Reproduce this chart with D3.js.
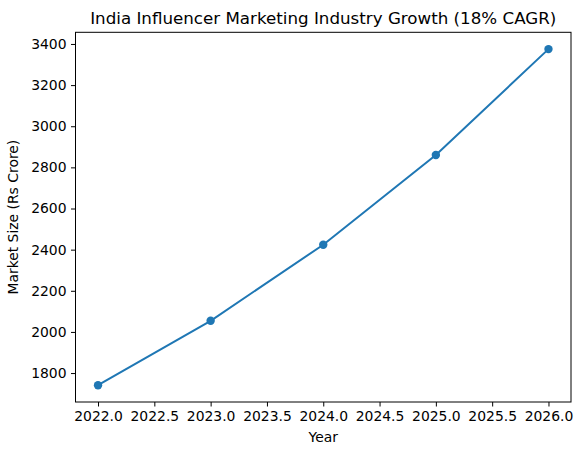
<!DOCTYPE html>
<html>
<head>
<meta charset="utf-8">
<script src="https://cdn.jsdelivr.net/npm/d3@7"></script>
<style>
  body { margin: 0; background: #fff; }
  .axis text { font-family: "DejaVu Sans", sans-serif; font-size: 13.9px; fill: #000; }
  .axis path, .axis line { stroke: #000; stroke-width: 1; }
  .label { font-family: "DejaVu Sans", sans-serif; font-size: 13.9px; fill: #000; }
  .title { font-family: "DejaVu Sans", sans-serif; font-size: 16.7px; fill: #000; }
</style>
</head>
<body>
<div class="chart"></div>
<script>
var years = [2022, 2023, 2024, 2025, 2026];
var marketSize = [1741, 2054, 2424, 2860, 3375];
var xTicks = [2022.0, 2022.5, 2023.0, 2023.5, 2024.0, 2024.5, 2025.0, 2025.5, 2026.0];
var yTicks = [1800, 2000, 2200, 2400, 2600, 2800, 3000, 3200, 3400];

var totalW = 582, totalH = 455;
var margin = {top: 32.3, right: 11, bottom: 53, left: 75.5},
    width = totalW - margin.left - margin.right,
    height = totalH - margin.top - margin.bottom;

var data = years.map(function(y, i) { return {year: y, value: marketSize[i]}; });

// matplotlib style 5% padding
var xExt = d3.extent(years), yExt = d3.extent(marketSize);
var xPad = (xExt[1] - xExt[0]) * 0.05, yPad = (yExt[1] - yExt[0]) * 0.05;

var x = d3.scaleLinear().domain([xExt[0] - xPad, xExt[1] + xPad]).range([0, width]);
var y = d3.scaleLinear().domain([yExt[0] - yPad, yExt[1] + yPad]).range([height, 0]);

var svg = d3.select(".chart")
    .append("svg")
    .attr("width", totalW)
    .attr("height", totalH)
    .append("g")
    .attr("transform", "translate(" + margin.left + "," + margin.top + ")");

var xAxis = d3.axisBottom(x).tickValues(xTicks).tickFormat(d3.format(".1f"))
    .tickSizeInner(4.5).tickSizeOuter(0).tickPadding(4.5);
var yAxis = d3.axisLeft(y).tickValues(yTicks).tickFormat(d3.format("d"))
    .tickSizeInner(4.5).tickSizeOuter(0).tickPadding(4.5);

svg.append("g")
    .attr("class", "x axis")
    .attr("transform", "translate(0," + height + ")")
    .call(xAxis)
    .select(".domain").remove();

svg.append("g")
    .attr("class", "y axis")
    .call(yAxis)
    .select(".domain").remove();

// frame
svg.append("rect")
    .attr("x", 0).attr("y", 0)
    .attr("width", width).attr("height", height)
    .attr("fill", "none")
    .attr("stroke", "#000")
    .attr("stroke-width", 1);

var valueline = d3.line()
    .x(function(d) { return x(d.year); })
    .y(function(d) { return y(d.value); });

svg.append("path")
    .datum(data)
    .attr("fill", "none")
    .attr("stroke", "#1f77b4")
    .attr("stroke-width", 2)
    .attr("d", valueline);

svg.selectAll(".dot")
    .data(data)
    .enter().append("circle")
    .attr("class", "dot")
    .attr("cx", function(d) { return x(d.year); })
    .attr("cy", function(d) { return y(d.value); })
    .attr("r", 4.2)
    .attr("fill", "#1f77b4");

svg.append("text")
    .attr("class", "title")
    .attr("x", width / 2)
    .attr("y", -8.3)
    .attr("text-anchor", "middle")
    .text("India Influencer Marketing Industry Growth (18% CAGR)");

svg.append("text")
    .attr("class", "label")
    .attr("x", width / 2)
    .attr("y", height + 40)
    .attr("text-anchor", "middle")
    .text("Year");

svg.append("text")
    .attr("class", "label")
    .attr("transform", "translate(" + (17.5 - margin.left) + "," + (height / 2) + ") rotate(-90)")
    .attr("text-anchor", "middle")
    .text("Market Size (Rs Crore)");
</script>
</body>
</html>
